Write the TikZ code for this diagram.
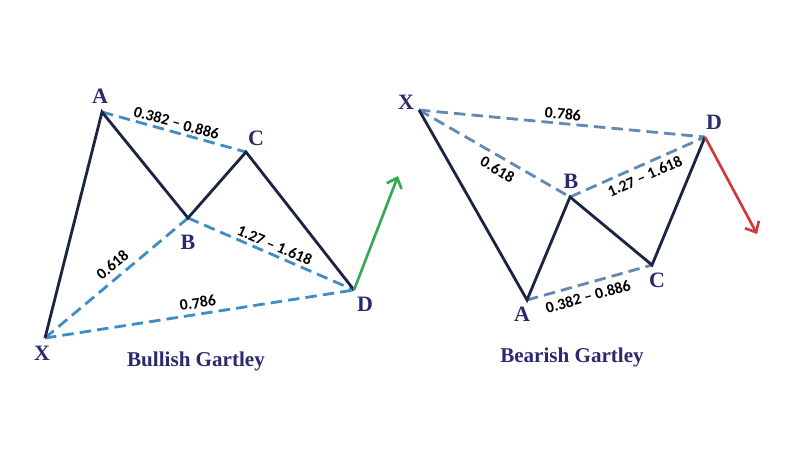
\documentclass[tikz,border=0pt]{standalone}
\usepackage{fontspec}
\setmainfont{Liberation Serif}
\newfontfamily\numfont{Carlito}
\usetikzlibrary{arrows.meta}
\definecolor{navy}{HTML}{1C2444}
\definecolor{lettercol}{HTML}{2B2A6E}
\definecolor{ratioblue}{HTML}{3D8EC4}
\definecolor{ratiosteel}{HTML}{5E8AB4}
\definecolor{upgreen}{HTML}{35A853}
\definecolor{downred}{HTML}{D0393B}
\begin{document}
\begin{tikzpicture}[x=0.02cm,y=-0.02cm,
  leg/.style={draw=navy, line width=1.6pt, line join=miter},
  ratioline/.style={dash pattern=on 6.5pt off 3.5pt, line width=1.6pt},
  pt/.style={text=lettercol, font=\bfseries\fontsize{12.5}{14}\selectfont},
  num/.style={font=\numfont\bfseries\fontsize{9}{10}\selectfont, inner sep=1.5pt},
  ttl/.style={text=lettercol, font=\bfseries\fontsize{12}{14}\selectfont}]
\useasboundingbox[fill=white] (0,0) rectangle (800,450);
% bullish gartley
\coordinate (bX) at (45,338);
\coordinate (bA) at (102,112);
\coordinate (bB) at (188,218);
\coordinate (bC) at (246,152);
\coordinate (bD) at (354,290);
\coordinate (bUp) at (398,176);
\draw[ratioline, draw=ratioblue] (bA) -- (bC) node[num, midway, sloped, above] (bAC) {0.382 – 0.886};
\draw[ratioline, draw=ratioblue] (bX) -- (bB) node[num, pos=0.53, sloped, above, inner sep=3.5pt] (bXB) {0.618};
\draw[ratioline, draw=ratioblue] (bB) -- (bD) node[num, midway, sloped, above] (bBD) {1.27 – 1.618};
\draw[ratioline, draw=ratioblue] (bX) -- (bD) node[num, midway, sloped, above, inner sep=2.5pt] (bXD) {0.786};
\draw[leg] (bX) -- (bA) -- (bB) -- (bC) -- (bD);
\draw[draw=upgreen, line width=1.5pt, -{Straight Barb[length=5pt,width=9pt]}] (bD) -- (bUp);
\node[pt] (bXl) at (42,353) {X};
\node[pt] (bAl) at (100,96) {A};
\node[pt] (bBl) at (188,242) {B};
\node[pt] (bCl) at (256,138) {C};
\node[pt] (bDl) at (365,304) {D};
\node[ttl] (bull) at (196,361) {Bullish Gartley};
% bearish gartley
\coordinate (sX) at (419,110);
\coordinate (sA) at (527,300);
\coordinate (sB) at (570,197);
\coordinate (sC) at (652,265);
\coordinate (sD) at (705,137);
\coordinate (sDown) at (757,234);
\draw[ratioline, draw=ratiosteel] (sX) -- (sD) node[num, midway, sloped, above] (sXD) {0.786};
\draw[ratioline, draw=ratiosteel] (sX) -- (sB) node[num, pos=0.56, sloped, below, inner sep=3pt] (sXB) {0.618};
\draw[ratioline, draw=ratiosteel] (sB) -- (sD) node[num, pos=0.52, sloped, below, inner sep=2.5pt] (sBD) {1.27 – 1.618};
\draw[ratioline, draw=ratiosteel] (sA) -- (sC) node[num, pos=0.46, sloped, below, inner sep=3.5pt] (sAC) {0.382 – 0.886};
\draw[leg] (sX) -- (sA) -- (sB) -- (sC) -- (sD);
\draw[draw=downred, line width=1.5pt, -{Straight Barb[length=5pt,width=9pt]}] (sD) -- (sDown);
\node[pt] (sXl) at (406,102) {X};
\node[pt] (sAl) at (522,314) {A};
\node[pt] (sBl) at (571,181) {B};
\node[pt] (sCl) at (657,280) {C};
\node[pt] (sDl) at (714,122) {D};
\node[ttl] (bear) at (572,357) {Bearish Gartley};
\end{tikzpicture}
\end{document}
